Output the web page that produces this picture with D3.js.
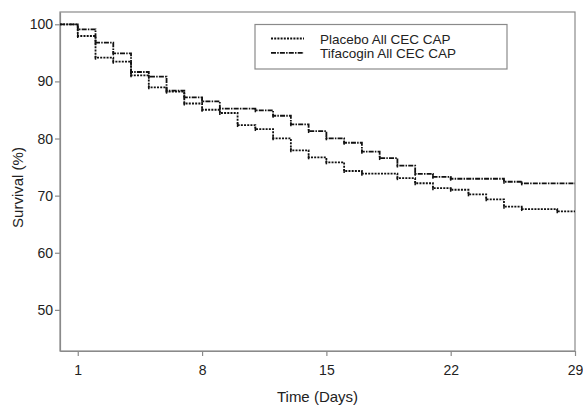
<!DOCTYPE html>
<html>
<head>
<meta charset="utf-8">
<script src="https://cdn.jsdelivr.net/npm/d3@7"></script>
<style>
  body { margin: 0; background: #fff; }
  text { font-family: "Liberation Sans", Arial, sans-serif; fill: #222; }
</style>
</head>
<body>
<div id="km"></div>
<script>
// data: survival (%) after each day
const days = d3.range(0, 30);
const placebo = [100, 97.95, 94.15, 93.45, 91.07, 88.97, 88.2, 86.13, 85.04, 84.47,
  82.36, 81.66, 80.04, 77.93, 76.71, 75.83, 74.31, 73.84, 73.84, 73.06,
  72.17, 71.3, 71.03, 70.23, 69.35, 68.06, 67.65, 67.65, 67.25, 67.25];
const tifacogin = [100, 99.12, 96.78, 94.92, 91.65, 90.82, 88.37, 87.22, 86.51, 85.22,
  85.22, 84.94, 83.99, 82.49, 81.31, 80.04, 79.26, 77.69, 76.58, 75.27,
  73.82, 73.29, 72.96, 72.96, 72.96, 72.43, 72.15, 72.15, 72.15, 72.15];
const xTicks = [1, 8, 15, 22, 29];
const yTicks = [50, 60, 70, 80, 90, 100];
const seriesNames = ["Placebo All CEC CAP", "Tifacogin All CEC CAP"];

const W = 583, H = 406;
const margin = {top: 12, right: 8, bottom: 55, left: 60};
const width = 575 - margin.left, height = 351 - margin.top;

const svg = d3.select("#km").append("svg")
    .attr("width", W).attr("height", H);
const g = svg.append("g")
    .attr("transform", `translate(${margin.left},${margin.top})`);

const x = d3.scaleLinear().domain([0, 29]).range([0, width]);
const y = d3.scaleLinear().domain([42.8, 102.15]).range([height, 0]);

const axisColor = "#8a8a8a";

// frame
g.append("rect")
  .attr("x", 0).attr("y", 0)
  .attr("width", width).attr("height", height)
  .attr("fill", "none").attr("stroke", axisColor).attr("stroke-width", 1.2);

// axes
const xAxis = g.append("g")
  .attr("transform", `translate(0,${height})`)
  .call(d3.axisBottom(x).tickValues(xTicks).tickSize(5).tickSizeOuter(0).tickPadding(9));
const yAxis = g.append("g")
  .call(d3.axisLeft(y).tickValues(yTicks).tickSize(5).tickSizeOuter(0).tickPadding(2));
[xAxis, yAxis].forEach(a => {
  a.select(".domain").attr("stroke", axisColor).attr("stroke-width", 1.2);
  a.selectAll(".tick line").attr("stroke", axisColor).attr("stroke-width", 1.2);
  a.selectAll(".tick text").attr("fill", "#222")
    .style("font-family", '"Liberation Sans", Arial, sans-serif').style("font-size", "14px");
});

// axis titles
svg.append("text")
  .attr("x", margin.left + width / 2).attr("y", 402)
  .attr("text-anchor", "middle").style("font-size", "15px")
  .text("Time (Days)");
svg.append("text")
  .attr("transform", `translate(23,${margin.top + height / 2 + 6}) rotate(-90)`)
  .attr("text-anchor", "middle").style("font-size", "15px")
  .text("Survival (%)");

// step curves
const line = d3.line()
  .x((d, i) => x(days[i]))
  .y(d => y(d))
  .curve(d3.curveStepAfter);

const styles = [
  {data: placebo, dash: "2,1.2"},
  {data: tifacogin, dash: "5,1.2,1.5,1.2"}
];

styles.forEach(s => {
  g.append("path")
    .datum(s.data)
    .attr("fill", "none")
    .attr("stroke", "#111")
    .attr("stroke-width", 1.8)
    .attr("stroke-dasharray", s.dash)
    .attr("d", line);
  // censor marks at each step
  g.selectAll(null)
    .data(s.data.map((v, i) => [days[i], v]).filter((d, i) => i > 0 && i < 29 && s.data[i] !== s.data[i - 1]))
    .enter()
    .append("line")
      .attr("x1", d => x(d[0])).attr("x2", d => x(d[0]))
      .attr("y1", d => y(d[1]) - 2).attr("y2", d => y(d[1]) + 2)
      .attr("stroke", "#111").attr("stroke-width", 1.5);
});

// legend
const legend = svg.append("g");
legend.append("rect")
  .attr("x", 255).attr("y", 24.5)
  .attr("width", 252).attr("height", 44.5)
  .attr("fill", "#fff").attr("stroke", axisColor).attr("stroke-width", 1.2);
seriesNames.forEach((name, i) => {
  const ly = 38.5 + i * 14.3;
  legend.append("line")
    .attr("x1", 271).attr("x2", 304)
    .attr("y1", ly).attr("y2", ly)
    .attr("stroke", "#111").attr("stroke-width", 1.8)
    .attr("stroke-dasharray", styles[i].dash);
  legend.append("text")
    .attr("x", 320).attr("y", ly + 5)
    .style("font-size", "13.5px")
    .text(name);
});
</script>
</body>
</html>
